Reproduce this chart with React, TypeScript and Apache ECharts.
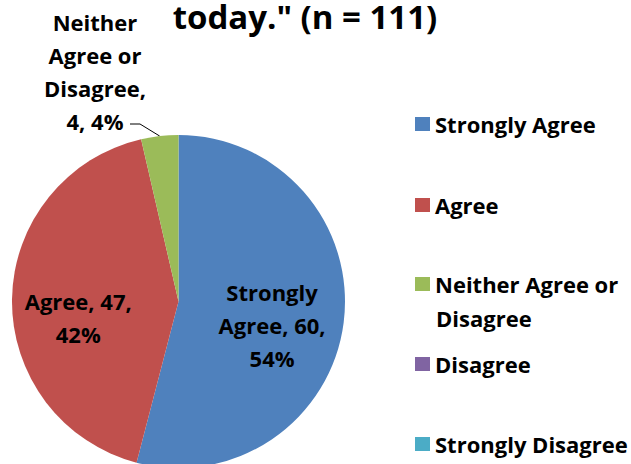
import React, { useEffect, useRef } from "react";
import * as echarts from "echarts";

const categories = ["Strongly Agree", "Agree", "Neither Agree or Disagree", "Disagree", "Strongly Disagree"];
const values = [60, 47, 4, 0, 0];
const colors = ["#4F81BD", "#C0504D", "#9BBB59", "#8064A2", "#4BACC6"];
const labelNames = ["Strongly\nAgree", "Agree", "Neither\nAgree or\nDisagree"];
const titleText = 'today." (n = 111)';
const legendCentersY = [124, 205, 284, 364, 444];

const FONT = "'Open Sans'";
const FS = 22;

export default function App() {
  const ref = useRef<HTMLDivElement>(null);
  useEffect(() => {
    if (!ref.current) return;
    const chart = echarts.init(ref.current, undefined, { renderer: "svg" });
    const legendText = { fontSize: FS, fontWeight: "bold", fontFamily: FONT, color: "#000", lineHeight: 34 };
    const legends = categories.map((name, i) => ({
      orient: "vertical",
      left: 410,
      top: legendCentersY[i] - 22,
      itemWidth: 15,
      itemHeight: 14,
      itemGap: 0,
      icon: "rect",
      data: [name],
      selectedMode: false,
      formatter: (n: string) => (i === 2 ? "Neither Agree or" : n),
      textStyle: legendText,
    }));
    const data = categories.map((name, i) => {
      const item: any = { name, value: values[i], itemStyle: { color: colors[i] } };
      if (values[i] === 0) {
        item.label = { show: false };
        item.labelLine = { show: false };
      } else if (i === 0) {
        item.label = { position: "inside", offset: [8, 13] };
      } else if (i === 1) {
        item.label = { position: "inside", offset: [-14, 17] };
      } else {
        item.label = { position: "outside" };
        item.labelLine = { show: true, length: 6, length2: 10, lineStyle: { color: "#000", width: 1 } };
      }
      return item;
    });
    chart.setOption({
      animation: false,
      legend: legends,
      graphic: [
        {
          type: "text",
          x: 305,
          y: 0,
          style: {
            text: titleText,
            font: `bold 33px ${FONT}`,
            fill: "#000",
            textAlign: "center",
            textVerticalAlign: "top",
          },
        },
        {
          type: "text",
          x: 436,
          y: 318,
          style: {
            text: "Disagree",
            font: `bold ${FS}px ${FONT}`,
            fill: "#000",
            textAlign: "left",
            textVerticalAlign: "middle",
          },
        },
      ],
      series: [
        {
          type: "pie",
          center: [178.5, 301.5],
          radius: 166.5,
          startAngle: 90,
          clockwise: true,
          avoidLabelOverlap: false,
          itemStyle: { borderWidth: 0 },
          label: {
            show: true,
            fontSize: FS,
            fontWeight: "bold",
            fontFamily: FONT,
            color: "#000",
            lineHeight: 33,
            align: "center",
            formatter: (p: any) => {
              const i = p.dataIndex;
              const pct = Math.round(p.percent) + "%";
              if (i === 2) return `${labelNames[i]},\n${p.value}, ${pct}`;
              return `${labelNames[i]}, ${p.value},\n${pct}`;
            },
          },
          labelLayout: (params: any) => {
            if (params.dataIndex === 2) {
              const pts = params.labelLinePoints;
              const out: any = { x: 95, y: 71, align: "center", verticalAlign: "middle" };
              if (pts && pts.length) {
                out.labelLinePoints = [pts[0], [140, 124], [130, 124]];
              }
              return out;
            }
            return {};
          },
          emphasis: { disabled: true },
          data,
        },
      ],
    });
    return () => chart.dispose();
  }, []);
  return <div ref={ref} style={{ position: "fixed", left: 0, top: 0, width: 631, height: 464, background: "#fff" }} />;
}
